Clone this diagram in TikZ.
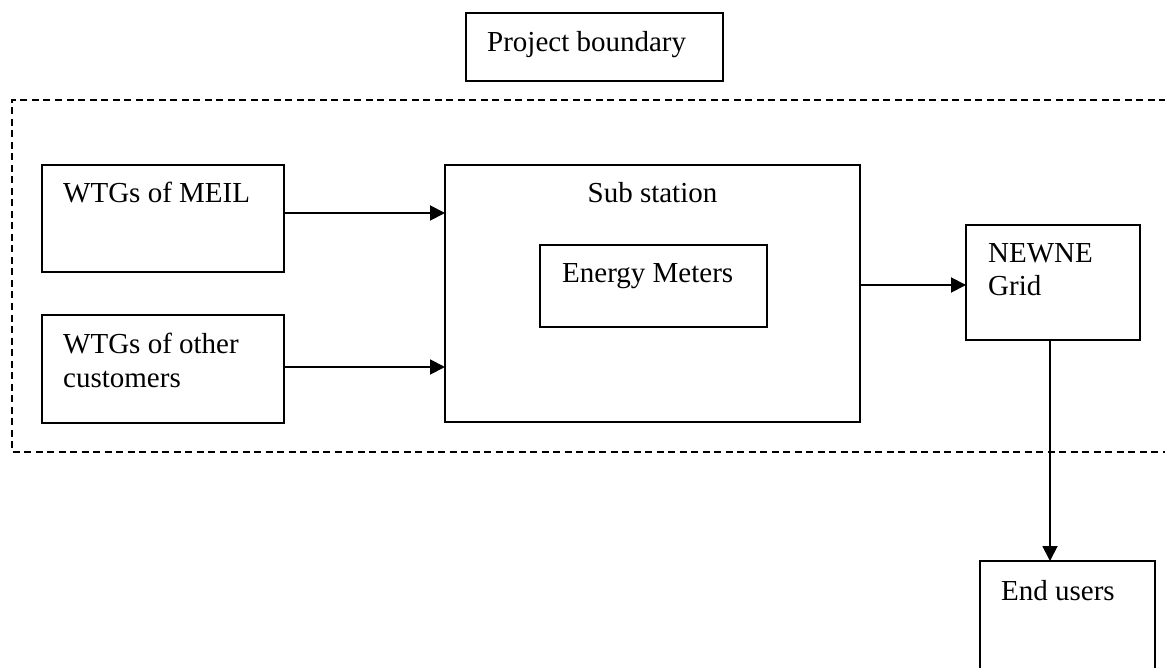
\documentclass[tikz,border=0pt]{standalone}
\usepackage{fontspec}
\setmainfont{Liberation Serif}
\usetikzlibrary{arrows.meta}
\begin{document}
\begin{tikzpicture}[x=1pt,y=-1pt,
  box/.style={draw, line width=1.7pt, rectangle, inner sep=0pt, outer sep=0pt, anchor=north west},
  lbl/.style={inner sep=0pt, anchor=base west, font=\fontsize{29}{34}\selectfont},
  arrow/.style={line width=1.9pt, -{Triangle[length=15pt,width=15pt]}},
  border/.style={line width=1.4pt, dash pattern=on 7pt off 4.5pt}]
\useasboundingbox (0,0) rectangle (1165,668);

% project boundary (dashed, open to the right)
\draw[border] (1166,100) -- (12,100) -- (12,452) -- (1166,452);

% boxes
\node[box, minimum width=257, minimum height=68] (pb) at (466,13) {};
\node[box, minimum width=242, minimum height=107] (meil) at (42,165) {};
\node[box, minimum width=242, minimum height=108] (other) at (42,315) {};
\node[box, minimum width=415, minimum height=257] (sub) at (445,165) {};
\node[box, minimum width=227, minimum height=82] (em) at (540,245) {};
\node[box, minimum width=174, minimum height=115] (grid) at (966,225) {};
\node[box, minimum width=175, minimum height=112] (users) at (980,561) {};

% labels
\node[lbl] (pbt) at (487,52) {Project boundary};
\node[lbl] (meilt) at (63,203) {WTGs of MEIL};
\node[lbl] (othert1) at (63,353) {WTGs of other};
\node[lbl] (othert2) at (63,387) {customers};
\node[lbl, anchor=base] (subt) at (652.5,203) {Sub station};
\node[lbl] (emt) at (562,283) {Energy Meters};
\node[lbl] (gridt1) at (988,263) {NEWNE};
\node[lbl] (gridt2) at (988,296) {Grid};
\node[lbl] (userst) at (1001,600) {End users};

% connectors
\draw[arrow] ([yshift=5.5pt]meil.east) coordinate (s1) -- (s1 -| sub.west);
\draw[arrow] ([yshift=2pt]other.east) coordinate (s2) -- (s2 -| sub.west);
\draw[arrow] ([yshift=8.5pt]sub.east) coordinate (s3) -- (s3 -| grid.west);
\draw[arrow] ([xshift=-3pt]grid.south) coordinate (s4) -- (s4 |- users.north);
\end{tikzpicture}
\end{document}
